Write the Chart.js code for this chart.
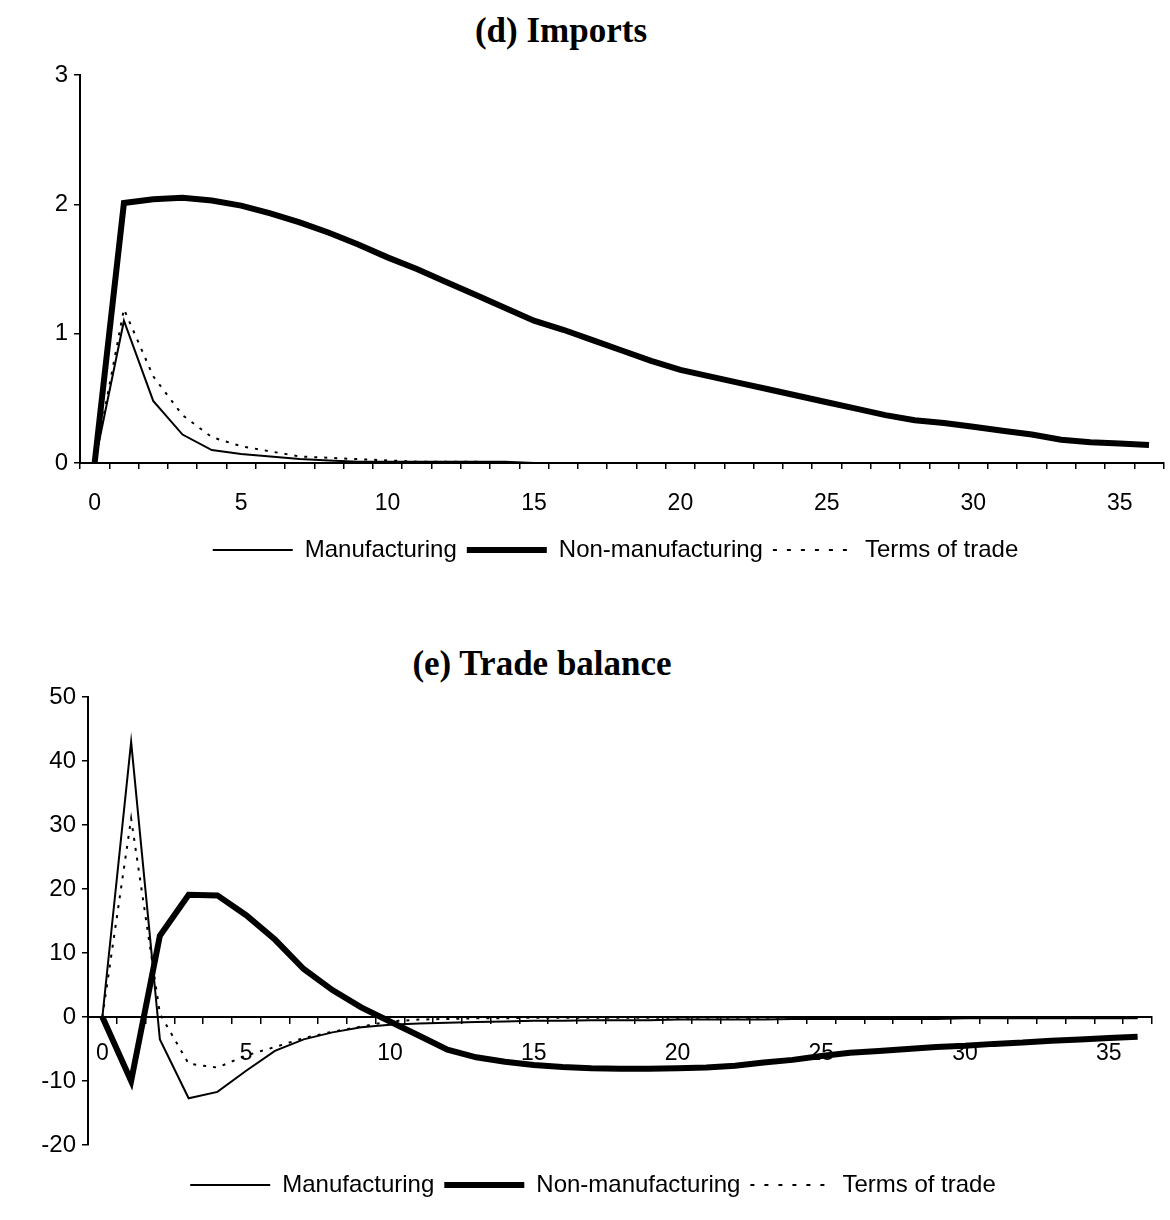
<!DOCTYPE html>
<html>
<head>
<meta charset="utf-8">
<script src="https://cdn.jsdelivr.net/npm/chart.js@4.4.1/dist/chart.umd.min.js"></script>
<style>
  html, body { margin: 0; padding: 0; background: #fff; }
  #wrap { position: relative; width: 1170px; height: 1220px; overflow: hidden; background: #fff; }
  .ttl { position: absolute; font-family: "Liberation Serif", "Times New Roman", serif; font-weight: bold;
         font-size: 35px; line-height: 35px; color: #000; white-space: nowrap; transform: translateX(-50%); }
  canvas { position: absolute; left: 0; }
</style>
</head>
<body>
<div id="wrap">
  <div class="ttl" style="left:561px; top:13px;">(d) Imports</div>
  <div class="ttl" style="left:542px; top:646px;">(e) Trade balance</div>
  <canvas id="c1" width="1170" height="572" style="top:0px;"></canvas>
  <canvas id="c2" width="1170" height="607" style="top:600px;"></canvas>
</div>
<script>
// ---------- data ----------
const periods = [0,1,2,3,4,5,6,7,8,9,10,11,12,13,14,15,16,17,18,19,20,21,22,23,24,25,26,27,28,29,30,31,32,33,34,35,36];
const xTickLabels = ['0','5','10','15','20','25','30','35'];
const seriesNames = ['Manufacturing', 'Non-manufacturing', 'Terms of trade'];

// (d) Imports
const importsManufacturing = [0, 1.10, 0.48, 0.22, 0.10, 0.07, 0.05, 0.03, 0.02, 0.01, 0.01, 0.01, 0.01, 0.01, 0.01, 0.00,
  0.00, 0.00, 0.00, 0.00, 0.00, 0.00, 0.00, 0.00, 0.00, 0.00, 0.00, 0.00, 0.00, 0.00, 0.00, 0.00, 0.00, 0.00, 0.00, 0.00, 0.00];
const importsNonManufacturing = [0, 2.01, 2.04, 2.05, 2.03, 1.99, 1.93, 1.86, 1.78, 1.69, 1.59, 1.50, 1.40, 1.30, 1.20, 1.10,
  1.03, 0.95, 0.87, 0.79, 0.72, 0.67, 0.62, 0.57, 0.52, 0.47, 0.42, 0.37, 0.33, 0.31, 0.28, 0.25, 0.22, 0.18, 0.16, 0.15, 0.14];
const importsTermsOfTrade = [0, 1.19, 0.67, 0.37, 0.20, 0.13, 0.09, 0.05, 0.04, 0.03, 0.02, 0.01, 0.01, 0.01, 0.00, 0.00,
  0.00, 0.00, 0.00, 0.00, 0.00, 0.00, 0.00, 0.00, 0.00, 0.00, 0.00, 0.00, 0.00, 0.00, 0.00, 0.00, 0.00, 0.00, 0.00, 0.00, 0.00];
const importsYTicks = { min: 0, max: 3, step: 1 };

// (e) Trade balance
const tradeManufacturing = [0, 43, -3.5, -12.7, -11.7, -8.4, -5.3, -3.5, -2.4, -1.6, -1.2, -1.0, -0.9, -0.8, -0.7, -0.6,
  -0.6, -0.5, -0.5, -0.5, -0.4, -0.4, -0.4, -0.4, -0.3, -0.3, -0.3, -0.3, -0.3, -0.3, -0.2, -0.2, -0.2, -0.2, -0.2, -0.2, -0.2];
const tradeNonManufacturing = [0, -10.0, 12.7, 19.1, 19.0, 15.9, 12.1, 7.5, 4.2, 1.5, -0.7, -2.9, -5.1, -6.3, -7.0, -7.5,
  -7.8, -8.0, -8.1, -8.1, -8.0, -7.9, -7.6, -7.1, -6.7, -6.1, -5.6, -5.3, -5.0, -4.7, -4.5, -4.2, -4.0, -3.7, -3.5, -3.3, -3.1];
const tradeTermsOfTrade = [0, 31, 0.5, -7.3, -7.9, -6.0, -4.7, -3.3, -2.3, -1.5, -0.7, -0.4, -0.3, -0.2, -0.2, -0.1,
  -0.1, -0.1, -0.1, -0.1, -0.1, -0.1, -0.1, -0.1, -0.1, -0.1, -0.1, -0.1, -0.1, -0.1, -0.1, -0.1, -0.1, -0.1, -0.1, -0.1, -0.1];
const tradeYTicks = { min: -20, max: 50, step: 10 };

// ---------- styling helpers ----------
const xTickFont = { family: "'Liberation Sans', Arial, sans-serif", size: 23 };
const yTickFont = { family: "'Liberation Sans', Arial, sans-serif", size: 24 };
const legendFont = { family: "'Liberation Sans', Arial, sans-serif", size: 24 };

function axisGrid(extra) {
  return Object.assign({ drawOnChartArea: false, drawTicks: true, tickLength: 6, color: '#000',
    tickColor: '#000', tickWidth: 1.5, lineWidth: 1.5 }, extra || {});
}
const axisBorder = { display: true, color: '#000', width: 2 };

function makeDatasets(m, n, t) {
  const base = { borderColor: '#000', backgroundColor: '#000', pointRadius: 0, pointHoverRadius: 0,
    tension: 0, fill: false, clip: false, borderJoinStyle: 'miter' };
  return [
    Object.assign({ label: seriesNames[0], data: m, borderWidth: 2 }, base),
    Object.assign({ label: seriesNames[1], data: n, borderWidth: 6 }, base),
    Object.assign({ label: seriesNames[2], data: t, borderWidth: 2, borderDash: [3, 7] }, base)
  ];
}

function xTickCallback(value) {
  const l = this.getLabelForValue(value);
  return xTickLabels.includes(l) ? l : '';
}

function legendLabels(chart) {
  const items = Chart.defaults.plugins.legend.labels.generateLabels(chart);
  items.forEach(it => {
    const ds = chart.data.datasets[it.datasetIndex];
    it.lineWidth = ds.borderWidth;
    it.lineDash = ds.borderDash ? [4, 10] : [];
  });
  return items;
}

function legendOpts(titlePad) {
  const o = {
    display: true, position: 'bottom', fullSize: true,
    labels: { usePointStyle: true, pointStyle: 'line', pointStyleWidth: 80, font: legendFont,
      color: '#000', padding: 10, generateLabels: legendLabels }
  };
  if (titlePad) {
    o.title = { display: true, text: '', font: { size: 1 }, padding: { top: titlePad, bottom: 0 } };
  }
  return o;
}

const labelsStr = periods.map(String);

// ---------- (d) Imports ----------
new Chart(document.getElementById('c1'), {
  type: 'line',
  data: { labels: labelsStr, datasets: makeDatasets(importsManufacturing, importsNonManufacturing, importsTermsOfTrade) },
  options: {
    responsive: false, animation: false, devicePixelRatio: 1,
    layout: { padding: { top: 75, left: 52, right: -9, bottom: 0 } },
    plugins: { legend: legendOpts(0), tooltip: { enabled: false }, title: { display: false } },
    scales: {
      x: {
        type: 'category', offset: true,
        grid: axisGrid({ offset: true }), border: axisBorder,
        ticks: { autoSkip: false, maxRotation: 0, minRotation: 0, padding: 21, color: '#000', font: xTickFont, callback: xTickCallback },
        afterFit(s) { s.height = 65; }
      },
      y: {
        min: importsYTicks.min, max: importsYTicks.max,
        ticks: { stepSize: importsYTicks.step, padding: 6, color: '#000', font: yTickFont },
        grid: axisGrid(), border: axisBorder,
        afterFit(s) { s.width = 28; }
      }
    }
  }
});

// ---------- (e) Trade balance ----------
new Chart(document.getElementById('c2'), {
  type: 'line',
  data: { labels: labelsStr, datasets: makeDatasets(tradeManufacturing, tradeNonManufacturing, tradeTermsOfTrade) },
  options: {
    responsive: false, animation: false, devicePixelRatio: 1,
    layout: { padding: { top: 97, left: 34, right: 18, bottom: 0 } },
    plugins: { legend: legendOpts(16.8), tooltip: { enabled: false }, title: { display: false } },
    scales: {
      x: {
        type: 'category', offset: true, position: { y: 0 },
        grid: axisGrid({ offset: true }), border: axisBorder,
        ticks: { autoSkip: false, maxRotation: 0, minRotation: 0, padding: 17, color: '#000', font: xTickFont, callback: xTickCallback }
      },
      y: {
        min: tradeYTicks.min, max: tradeYTicks.max,
        ticks: { stepSize: tradeYTicks.step, padding: 6, color: '#000', font: yTickFont },
        grid: axisGrid(), border: axisBorder,
        afterFit(s) { s.width = 54; }
      }
    }
  }
});
</script>
</body>
</html>
